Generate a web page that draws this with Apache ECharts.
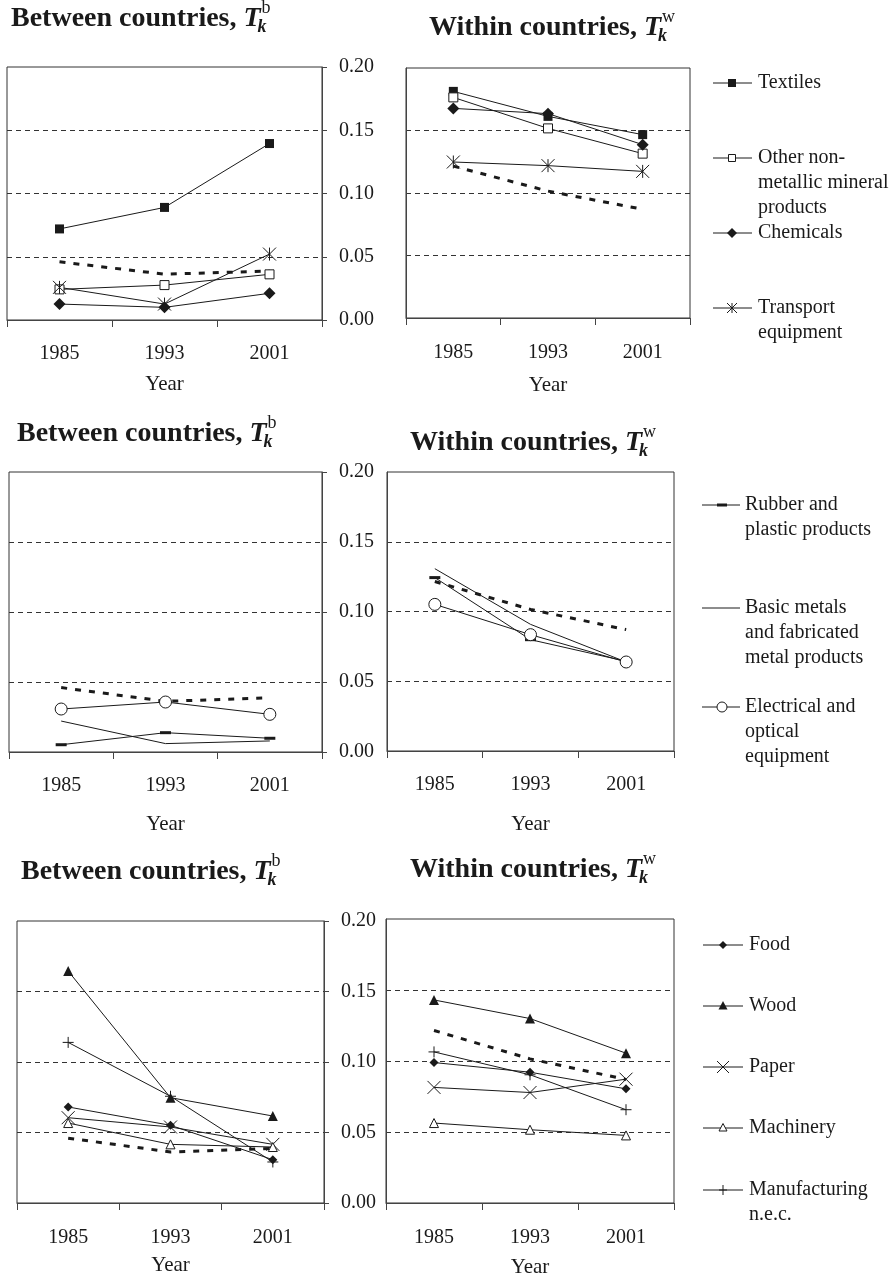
<!DOCTYPE html>
<html><head><meta charset="utf-8">
<script src="https://cdn.jsdelivr.net/npm/echarts@6/dist/echarts.min.js"></script>
<style>html,body{margin:0;padding:0;background:#fff}#c{width:893px;height:1281px}</style>
</head><body><div id="c"></div>
<script>
// ---------------- DATA ----------------
const years = ['1985', '1993', '2001'];
const yTickStep = 0.05;

// Panel row 1
const row1Names = ['Textiles', 'Other non-metallic mineral products', 'Chemicals', 'Transport equipment'];
const row1Labels = ['Textiles', 'Other non-\nmetallic mineral\nproducts', 'Chemicals', 'Transport\nequipment'];
const textilesB = [0.072, 0.089, 0.1395];
const otherB = [0.0242, 0.0276, 0.0361];
const chemB = [0.0126, 0.0100, 0.0211];
const transB = [0.0258, 0.0126, 0.0521];
const textilesW = [0.1813, 0.1613, 0.1467];
const otherW = [0.1765, 0.1517, 0.1315];
const chemW = [0.1677, 0.1635, 0.1387];
const transW = [0.1248, 0.1219, 0.1173];

// Panel row 2
const row2Names = ['Rubber and plastic products', 'Basic metals and fabricated metal products', 'Electrical and optical equipment'];
const row2Labels = ['Rubber and\nplastic products', 'Basic metals\nand fabricated\nmetal products', 'Electrical and\noptical\nequipment'];
const rubberB = [0.0052, 0.0138, 0.0098];
const metalsB = [0.0221, 0.0060, 0.0079];
const elecB = [0.0307, 0.0357, 0.0269];
const rubberW = [0.1243, 0.0798, 0.0643];
const metalsW = [0.1307, 0.0908, 0.0638];
const elecW = [0.1051, 0.0834, 0.0638];

// Panel row 3
const row3Names = ['Food', 'Wood', 'Paper', 'Machinery', 'Manufacturing n.e.c.'];
const row3Labels = ['Food', 'Wood', 'Paper', 'Machinery', 'Manufacturing\nn.e.c.'];
const foodB = [0.0681, 0.0551, 0.0307];
const woodB = [0.1645, 0.0747, 0.0617];
const paperB = [0.0605, 0.0539, 0.0416];
const machB = [0.0567, 0.0416, 0.0397];
const mfgB = [0.1139, 0.0757, 0.0291];
const foodW = [0.0989, 0.0921, 0.0804];
const woodW = [0.1430, 0.1299, 0.1055];
const paperW = [0.0814, 0.0778, 0.0872];
const machW = [0.0563, 0.0516, 0.0476];
const mfgW = [0.1064, 0.0903, 0.0657];

// Average (dashed reference line)
const averageB = [0.0460, 0.0362, 0.0387];
const averageW = [0.1215, 0.1015, 0.0870];

// Titles
const titleBetween = 'Between countries, ';
const titleWithin = 'Within countries, ';
const axisTitle = 'Year';

// ---------------- STYLE / LAYOUT ----------------
const FONT = '"Liberation Serif","Times New Roman",serif';
const INK = '#1a1a1a';
const AX = '#444';

const grids = [
  {left: 7, top: 67, width: 315, height: 253},
  {left: 406, top: 68, width: 284, height: 250},
  {left: 9, top: 472, width: 313, height: 280},
  {left: 387, top: 472, width: 287, height: 279},
  {left: 17, top: 921, width: 307, height: 282},
  {left: 386, top: 919, width: 288, height: 284}
];
const labelMargins = [24, 25, 24, 24, 25, 25];
const nameGaps = [54, 57, 62, 63, 52, 54];

const SYM = {
  sq:   {symbol: 'rect', symbolSize: 9, itemStyle: {color: INK}},
  sqo:  {symbol: 'rect', symbolSize: 9, itemStyle: {color: '#fff', borderColor: INK, borderWidth: 1}},
  dia:  {symbol: 'diamond', symbolSize: 12, itemStyle: {color: INK}},
  ast:  {symbol: 'path://M0,0L12,12M0,12L12,0M6,0L6,12', symbolSize: 13, itemStyle: {color: 'none', borderColor: INK, borderWidth: 1}},
  dash: {symbol: 'rect', symbolSize: [11, 3], itemStyle: {color: INK}},
  none: {symbol: 'none'},
  circ: {symbol: 'circle', symbolSize: 12, itemStyle: {color: '#fff', borderColor: INK, borderWidth: 1}},
  dias: {symbol: 'diamond', symbolSize: 9, itemStyle: {color: INK}},
  tri:  {symbol: 'triangle', symbolSize: 10, itemStyle: {color: INK}},
  x:    {symbol: 'path://M0,0L10,10M0,10L10,0', symbolSize: 13, itemStyle: {color: 'none', borderColor: INK, borderWidth: 1}},
  trio: {symbol: 'triangle', symbolSize: 9, itemStyle: {color: '#fff', borderColor: INK, borderWidth: 1}},
  plus: {symbol: 'path://M5,0L5,10M0,5L10,5', symbolSize: 11, itemStyle: {color: 'none', borderColor: INK, borderWidth: 1}}
};

function xAxisCfg(g) {
  return {
    type: 'category', gridIndex: g, data: years, boundaryGap: true,
    axisLine: {show: true, onZero: false, lineStyle: {color: AX, width: 1}},
    axisTick: {show: true, inside: false, length: 7, interval: 0, alignWithLabel: false, lineStyle: {color: AX}},
    axisLabel: {show: true, interval: 0, margin: labelMargins[g], fontFamily: FONT, fontSize: 20, color: INK},
    name: axisTitle, nameLocation: 'middle', nameGap: nameGaps[g],
    nameTextStyle: {fontFamily: FONT, fontSize: 21, color: INK},
    splitLine: {show: false}
  };
}
function yAxisCfg(g, labeled) {
  return {
    type: 'value', gridIndex: g, min: 0, max: 0.2, interval: yTickStep,
    position: labeled ? 'right' : 'left',
    axisLine: {show: true, lineStyle: {color: AX}},
    axisTick: {show: labeled, inside: false, length: 5, lineStyle: {color: AX}},
    axisLabel: {show: labeled, margin: 17, fontFamily: FONT, fontSize: 20, color: INK,
      formatter: v => v.toFixed(2)},
    splitLine: {show: true, showMinLine: false, showMaxLine: false,
      lineStyle: {color: '#333', width: 1, type: [5, 4]}}
  };
}
function ser(name, data, g, symKey) {
  const s = SYM[symKey];
  const o = {
    type: 'line', name: name, data: data, xAxisIndex: g, yAxisIndex: g,
    lineStyle: {color: INK, width: 1}, silent: true, animation: false, z: 3,
    symbol: s.symbol, showSymbol: symKey !== 'none', showAllSymbol: true
  };
  if (s.symbolSize) o.symbolSize = s.symbolSize;
  if (s.itemStyle) o.itemStyle = s.itemStyle;
  return o;
}
function avg(data, g) {
  return {type: 'line', data: data, xAxisIndex: g, yAxisIndex: g, symbol: 'none', showSymbol: false,
    silent: true, animation: false, z: 2,
    lineStyle: {color: INK, width: 3, type: [6, 8]}};
}

const series = [];
[[0, [textilesB, otherB, chemB, transB], averageB], [1, [textilesW, otherW, chemW, transW], averageW]].forEach(([g, arrs, av]) => {
  series.push(avg(av, g));
  ['sq', 'sqo', 'dia', 'ast'].forEach((k, i) => series.push(ser(row1Names[i], arrs[i], g, k)));
});
[[2, [rubberB, metalsB, elecB], averageB], [3, [rubberW, metalsW, elecW], averageW]].forEach(([g, arrs, av]) => {
  series.push(avg(av, g));
  ['dash', 'none', 'circ'].forEach((k, i) => series.push(ser(row2Names[i], arrs[i], g, k)));
});
[[4, [foodB, woodB, paperB, machB, mfgB], averageB], [5, [foodW, woodW, paperW, machW, mfgW], averageW]].forEach(([g, arrs, av]) => {
  series.push(avg(av, g));
  ['dias', 'tri', 'x', 'trio', 'plus'].forEach((k, i) => series.push(ser(row3Names[i], arrs[i], g, k)));
});

// ---------------- TITLES ----------------
const mctx = document.createElement('canvas').getContext('2d');
function tw(font, s) { mctx.font = font; return mctx.measureText(s).width; }
function title(x, B, main, sup) {
  const sz = 28, ss = 18;
  const fMain = 'bold ' + sz + 'px ' + FONT;
  const fT = 'italic bold ' + sz + 'px ' + FONT;
  const fSub = 'italic bold ' + ss + 'px ' + FONT;
  const fSup = ss + 'px ' + FONT;
  const w1 = tw(fMain, main), wT = tw(fT, 'T');
  const mid = (b, s) => b - 0.3375 * s;
  return [
    {type: 'text', x: x, y: mid(B, sz), style: {text: main, font: fMain, fill: INK, align: 'left', verticalAlign: 'middle'}},
    {type: 'text', x: x + w1, y: mid(B, sz), style: {text: 'T', font: fT, fill: INK, align: 'left', verticalAlign: 'middle'}},
    {type: 'text', x: x + w1 + wT - 3, y: mid(B + 5, ss), style: {text: 'k', font: fSub, fill: INK, align: 'left', verticalAlign: 'middle'}},
    {type: 'text', x: x + w1 + wT + 1, y: mid(B - 14, ss), style: {text: sup, font: fSup, fill: INK, align: 'left', verticalAlign: 'middle'}}
  ];
}

// ---------------- LEGENDS ----------------
function marker(k, cx, cy) {
  const st = {fill: INK};
  const stroke = {stroke: INK, lineWidth: 1};
  const open = {fill: '#fff', stroke: INK, lineWidth: 1};
  switch (k) {
    case 'sq': return [{type: 'rect', shape: {x: cx - 4, y: cy - 4, width: 8, height: 8}, style: st}];
    case 'sqo': return [{type: 'rect', shape: {x: cx - 3.5, y: cy - 3.5, width: 7, height: 7}, style: open}];
    case 'dia': return [{type: 'polygon', shape: {points: [[cx, cy - 5], [cx + 5, cy], [cx, cy + 5], [cx - 5, cy]]}, style: st}];
    case 'ast': return [
      {type: 'line', shape: {x1: cx - 5, y1: cy - 5, x2: cx + 5, y2: cy + 5}, style: stroke},
      {type: 'line', shape: {x1: cx - 5, y1: cy + 5, x2: cx + 5, y2: cy - 5}, style: stroke},
      {type: 'line', shape: {x1: cx, y1: cy - 5, x2: cx, y2: cy + 5}, style: stroke}];
    case 'dash': return [{type: 'rect', shape: {x: cx - 5, y: cy - 1.5, width: 10, height: 3}, style: st}];
    case 'none': return [];
    case 'circ': return [{type: 'circle', shape: {cx: cx, cy: cy, r: 5}, style: open}];
    case 'dias': return [{type: 'polygon', shape: {points: [[cx, cy - 4], [cx + 4, cy], [cx, cy + 4], [cx - 4, cy]]}, style: st}];
    case 'tri': return [{type: 'polygon', shape: {points: [[cx, cy - 5], [cx + 4.5, cy + 3.5], [cx - 4.5, cy + 3.5]]}, style: st}];
    case 'x': return [
      {type: 'line', shape: {x1: cx - 6, y1: cy - 6, x2: cx + 6, y2: cy + 6}, style: stroke},
      {type: 'line', shape: {x1: cx - 6, y1: cy + 6, x2: cx + 6, y2: cy - 6}, style: stroke}];
    case 'trio': return [{type: 'polygon', shape: {points: [[cx, cy - 4.5], [cx + 4, cy + 3], [cx - 4, cy + 3]]}, style: open}];
    case 'plus': return [
      {type: 'line', shape: {x1: cx, y1: cy - 5, x2: cx, y2: cy + 5}, style: stroke},
      {type: 'line', shape: {x1: cx - 4, y1: cy, x2: cx + 4, y2: cy}, style: stroke}];
  }
  return [];
}
function legendBlock(x0, x1, mx, tx, keys, ys, labels) {
  const out = [];
  keys.forEach((k, i) => {
    const y = ys[i];
    out.push({type: 'line', shape: {x1: x0, y1: y, x2: x1, y2: y}, style: {stroke: INK, lineWidth: 1}});
    marker(k, mx, y).forEach(e => out.push(e));
    out.push({type: 'text', x: tx, y: y - 12.5, style: {text: labels[i], font: '20px ' + FONT, fill: INK,
      lineHeight: 25, align: 'left', verticalAlign: 'top'}});
  });
  return out;
}

const graphics = [].concat(
  title(11, 28, titleBetween, 'b'),
  title(429, 37, titleWithin, 'w'),
  title(17, 443, titleBetween, 'b'),
  title(410, 452, titleWithin, 'w'),
  title(21, 881, titleBetween, 'b'),
  title(410, 879, titleWithin, 'w'),
  legendBlock(713, 752, 732, 758, ['sq', 'sqo', 'dia', 'ast'], [83, 158, 233, 308], row1Labels),
  legendBlock(702, 740, 722, 745, ['dash', 'none', 'circ'], [505, 608, 707], row2Labels),
  legendBlock(703, 743, 723, 749, ['dias', 'tri', 'x', 'trio', 'plus'], [945, 1006, 1067, 1128, 1190], row3Labels)
);

const option = {
  backgroundColor: '#fff',
  animation: false,
  grid: grids.map(g => Object.assign({show: true, borderColor: '#333', borderWidth: 1, backgroundColor: 'transparent', containLabel: false}, g)),
  xAxis: grids.map((g, i) => xAxisCfg(i)),
  yAxis: grids.map((g, i) => yAxisCfg(i, i % 2 === 0)),
  series: series,
  graphic: graphics
};

const chart = echarts.init(document.getElementById('c'), null, {renderer: 'canvas'});
chart.setOption(option);
</script>
</body></html>
